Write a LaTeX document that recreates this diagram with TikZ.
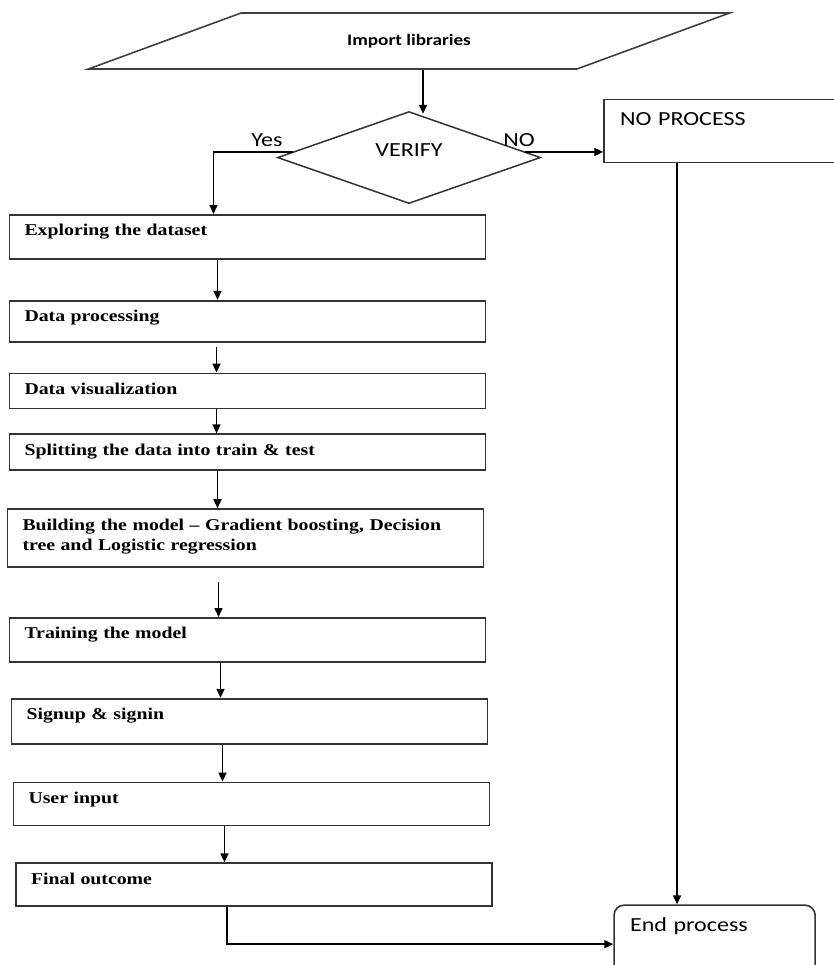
\documentclass[tikz,border=0pt]{standalone}
\usepackage{fontspec}
\usepackage{tikz}
\usetikzlibrary{arrows.meta,positioning,calc,shapes.geometric}
\newfontfamily\flowsans[FakeStretch=1.2]{Carlito}
\newfontfamily\flowserif[FakeStretch=1.2]{Liberation Serif}
\tikzset{
  inputbox/.style={trapezium, trapezium left angle=19, trapezium right angle=161, trapezium stretches=true, draw=black!75, line width=1.6pt, font=\flowsans\bfseries\fontsize{16}{19}\selectfont},
  decision/.style={diamond, aspect=2.86, draw=black!80, line width=1.5pt, inner sep=0pt, font=\flowsans\fontsize{20}{24}\selectfont},
  stepbox/.style={draw=black!80, line width=1.8pt, text width=446pt, inner xsep=15pt, inner ysep=6pt, text height=15pt, align=left, font=\flowserif\bfseries\fontsize{16.5}{20}\selectfont},
  termbox/.style={draw=black!80, line width=1.6pt, inner xsep=16pt, inner ysep=10pt, text height=16pt, align=left, font=\flowsans\fontsize{20}{24}\selectfont},
  lbl/.style={inner sep=0pt, font=\flowsans\fontsize{20}{24}\selectfont},
  arrow/.style={-{Triangle[length=9pt,width=8pt]}, line width=1.6pt},
}

\begin{document}
\begin{tikzpicture}[x=1pt, y=-1pt]
\useasboundingbox (0,0) rectangle (834,965);
\clip (0,0) rectangle (834,965);

% top: input and decision
\node[inputbox, minimum width=642pt, minimum height=56pt] (imp) at (409,41) {Import libraries};
\node[decision, minimum width=263pt, minimum height=92pt, text depth=14pt, below=41pt of imp] (verify) {VERIFY};
\node[lbl, anchor=south east] (yes) at ($(verify.west)+(6,-11)$) {Yes};
\node[lbl, anchor=south west] (no) at ($(verify.east)+(-38,-11)$) {NO};
\coordinate (yesout) at ($(verify.west)!0.12!(verify.north)$);
\coordinate (noout) at ($(verify.east)!0.12!(verify.north)$);

\node[termbox, text width=228pt, text depth=27pt, right=62pt of verify, yshift=26.5pt] (np) {NO PROCESS};

% main column
\node[stepbox, text depth=17pt, anchor=north] (explore) at (247.5,214) {Exploring the dataset};
\node[stepbox, text depth=14pt, below=40pt of explore] (process) {Data processing};
\node[stepbox, text depth=8pt, below=30pt of process] (visual) {Data visualization};
\node[stepbox, text depth=9pt, below=24pt of visual] (split) {Splitting the data into train \& test};
\node[stepbox, text depth=31pt, below=37pt of split, xshift=-2pt] (build) {Building the model – Gradient boosting, Decision\\tree and Logistic regression};
\node[stepbox, text depth=17pt, below=49pt of build, xshift=2pt] (train) {Training the model};
\node[stepbox, text depth=18pt, below=35pt of train, xshift=2pt] (sign) {Signup \& signin};
\node[stepbox, text depth=16pt, below=37pt of sign, xshift=2pt] (user) {User input};
\node[stepbox, text depth=16pt, below=36pt of user, xshift=2.5pt] (final) {Final outcome};

\node[termbox, rounded corners=10pt, text width=169pt, text depth=42pt, below=741pt of np, xshift=-19.5pt] (endp) {End process};

% connectors
\draw[arrow, shorten >=-3pt] ([xshift=14pt]imp.south) -- ([xshift=14pt]imp.south |- verify.north);
\draw[arrow] (yesout) -| ([xshift=-34pt]explore.north);
\draw[arrow] (noout) -- (noout -| np.west);

\draw[arrow] ([xshift=-30pt]explore.south) -- ([xshift=-30pt]explore.south |- process.north);
\draw[arrow, shorten <=4pt] ([xshift=-31pt]process.south) -- ([xshift=-31pt]process.south |- visual.north);
\draw[arrow] ([xshift=-31pt]visual.south) -- ([xshift=-31pt]visual.south |- split.north);
\draw[arrow] ([xshift=-30pt]split.south) -- ([xshift=-30pt]split.south |- build.north);
\draw[arrow, shorten <=14pt] ([xshift=-27pt]build.south) -- ([xshift=-27pt]build.south |- train.north);
\draw[arrow] ([xshift=-27pt]train.south) -- ([xshift=-27pt]train.south |- sign.north);
\draw[arrow] ([xshift=-27pt]sign.south) -- ([xshift=-27pt]sign.south |- user.north);
\draw[arrow] ([xshift=-27pt]user.south) -- ([xshift=-27pt]user.south |- final.north);

% to the end
\draw[arrow] ([xshift=-27pt]final.south) |- (endp.west);
\draw[arrow] ([xshift=-57pt]np.south) -- ([xshift=-57pt]np.south |- endp.north);
\end{tikzpicture}
\end{document}
